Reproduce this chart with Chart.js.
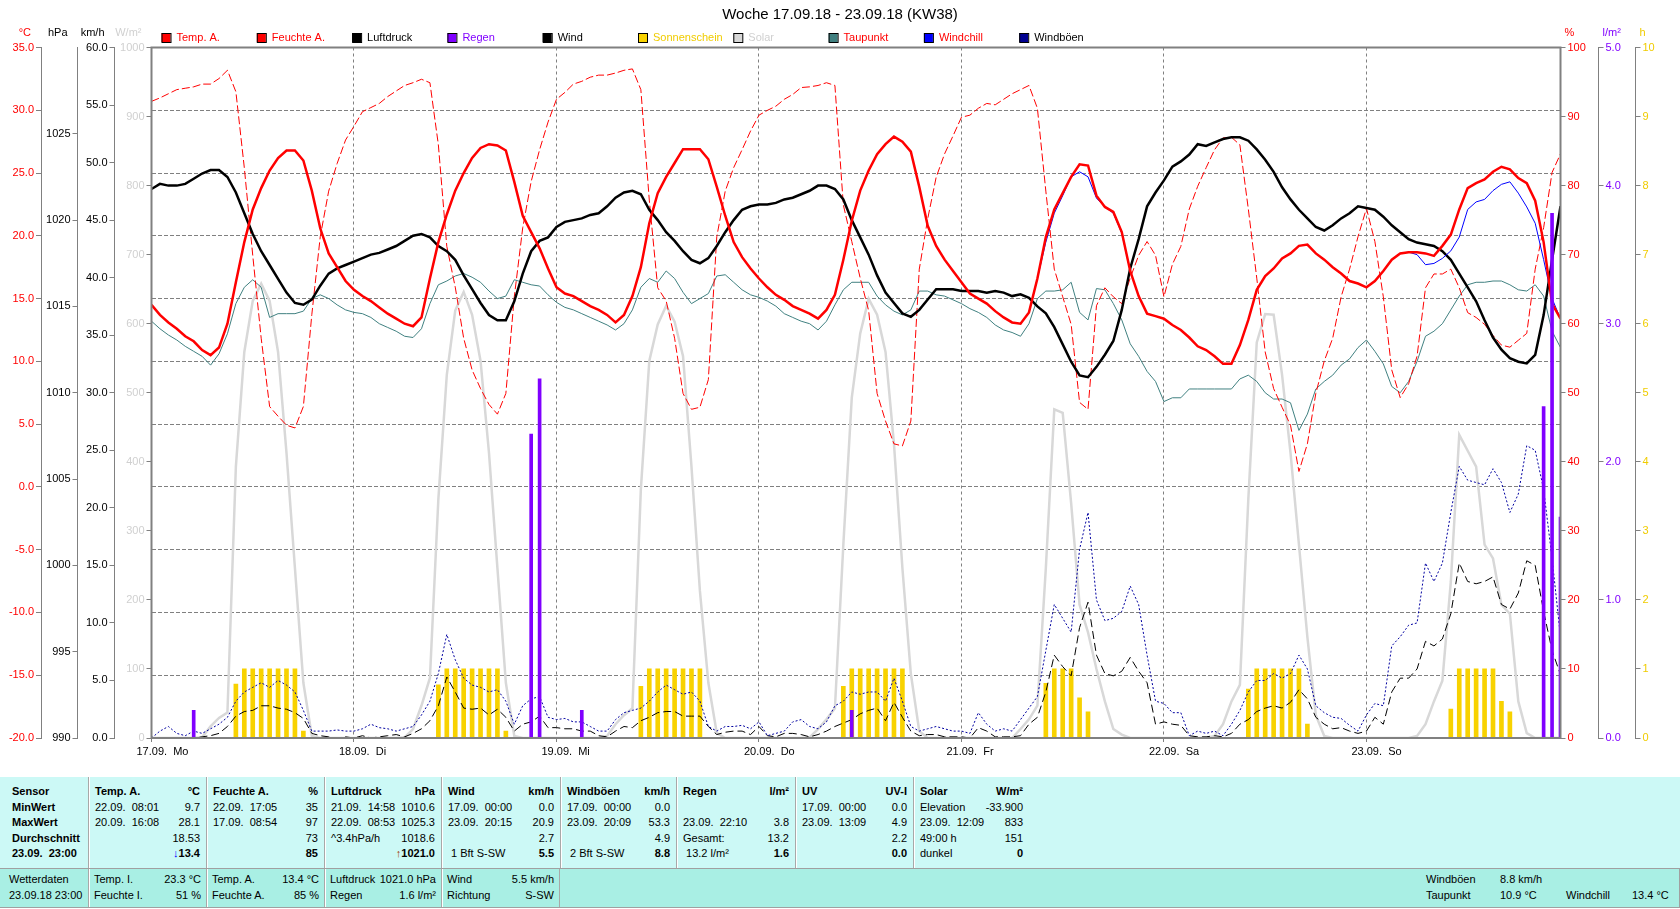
<!DOCTYPE html>
<html>
<head>
<meta charset="utf-8">
<title>Woche 17.09.18 - 23.09.18 (KW38)</title>
<script src="https://cdn.jsdelivr.net/npm/chart.js@4.4.0/dist/chart.umd.min.js"></script>
<style>
  body { margin: 0; background: #fff; font-family: "Liberation Sans", Arial, sans-serif; font-size: 11px; }
  #wrap { position: relative; width: 1680px; height: 909px; overflow: hidden; }
  #chart { position: absolute; left: 0; top: 0; }
  .band { position: absolute; left: 0; width: 1680px; box-sizing: border-box; }
  #t1 { top: 777px; height: 91px; background: #ccf9f6; }
  #t2 { top: 868px; height: 40px; background: #a9efe4; border-top: 1px solid #a0a0a0; border-bottom: 1px solid #a0a0a0; border-right: 1px solid #a0a0a0; }
  .col { position: absolute; top: 0; bottom: 0; padding: 7px 6px 0 6px; box-sizing: border-box; }
  .col + .col { border-left: 1px solid #a8a8a8; box-shadow: inset 1px 0 #ffffff; }
  #t2 .col { padding-top: 3px; padding-left: 5px; padding-right: 5px; }
  .r { display: flex; justify-content: space-between; height: 15.6px; line-height: 15.6px; white-space: pre; }
  #t2 .r { height: 15.5px; line-height: 15.5px; }
  .b { font-weight: bold; }
  .abs { position: absolute; white-space: pre; line-height: 15.5px; }
</style>
</head>
<body>
<div id="wrap">
  <canvas id="chart" width="1680" height="777"></canvas>

  <div class="band" id="t1">
    <div class="col b" style="left:0;width:88px;padding-left:12px">
      <div class="r">Sensor</div><div class="r">MinWert</div><div class="r">MaxWert</div><div class="r">Durchschnitt</div><div class="r">23.09.  23:00</div>
    </div>
    <div class="col" style="left:88px;width:118px">
      <div class="r b"><span>Temp. A.</span><span>°C</span></div>
      <div class="r"><span>22.09.  08:01</span><span>9.7</span></div>
      <div class="r"><span>20.09.  16:08</span><span>28.1</span></div>
      <div class="r"><span></span><span>18.53</span></div>
      <div class="r b"><span></span><span><span style="color:#0000ff">↓</span>13.4</span></div>
    </div>
    <div class="col" style="left:206px;width:118px">
      <div class="r b"><span>Feuchte A.</span><span>%</span></div>
      <div class="r"><span>22.09.  17:05</span><span>35</span></div>
      <div class="r"><span>17.09.  08:54</span><span>97</span></div>
      <div class="r"><span></span><span>73</span></div>
      <div class="r b"><span></span><span>85</span></div>
    </div>
    <div class="col" style="left:324px;width:117px">
      <div class="r b"><span>Luftdruck</span><span>hPa</span></div>
      <div class="r"><span>21.09.  14:58</span><span>1010.6</span></div>
      <div class="r"><span>22.09.  08:53</span><span>1025.3</span></div>
      <div class="r"><span>^3.4hPa/h</span><span>1018.6</span></div>
      <div class="r b"><span></span><span><span style="color:#a04000">↑</span>1021.0</span></div>
    </div>
    <div class="col" style="left:441px;width:119px">
      <div class="r b"><span>Wind</span><span>km/h</span></div>
      <div class="r"><span>17.09.  00:00</span><span>0.0</span></div>
      <div class="r"><span>23.09.  20:15</span><span>20.9</span></div>
      <div class="r"><span></span><span>2.7</span></div>
      <div class="r"><span> 1 Bft S-SW</span><span class="b">5.5</span></div>
    </div>
    <div class="col" style="left:560px;width:116px">
      <div class="r b"><span>Windböen</span><span>km/h</span></div>
      <div class="r"><span>17.09.  00:00</span><span>0.0</span></div>
      <div class="r"><span>23.09.  20:09</span><span>53.3</span></div>
      <div class="r"><span></span><span>4.9</span></div>
      <div class="r"><span> 2 Bft S-SW</span><span class="b">8.8</span></div>
    </div>
    <div class="col" style="left:676px;width:119px">
      <div class="r b"><span>Regen</span><span>l/m²</span></div>
      <div class="r"><span></span><span></span></div>
      <div class="r"><span>23.09.  22:10</span><span>3.8</span></div>
      <div class="r"><span>Gesamt:</span><span>13.2</span></div>
      <div class="r"><span> 13.2 l/m²</span><span class="b">1.6</span></div>
    </div>
    <div class="col" style="left:795px;width:118px">
      <div class="r b"><span>UV</span><span>UV-I</span></div>
      <div class="r"><span>17.09.  00:00</span><span>0.0</span></div>
      <div class="r"><span>23.09.  13:09</span><span>4.9</span></div>
      <div class="r"><span></span><span>2.2</span></div>
      <div class="r b"><span></span><span>0.0</span></div>
    </div>
    <div class="col" style="left:913px;width:116px">
      <div class="r b"><span>Solar</span><span>W/m²</span></div>
      <div class="r"><span>Elevation</span><span>-33.900</span></div>
      <div class="r"><span>23.09.  12:09</span><span>833</span></div>
      <div class="r"><span>49:00 h</span><span>151</span></div>
      <div class="r"><span>dunkel</span><span class="b">0</span></div>
    </div>
  </div>

  <div class="band" id="t2">
    <div class="col" style="left:0;width:88px;padding-left:9px">
      <div class="r">Wetterdaten</div><div class="r">23.09.18 23:00</div>
    </div>
    <div class="col" style="left:88px;width:118px">
      <div class="r"><span>Temp. I.</span><span>23.3 °C</span></div>
      <div class="r"><span>Feuchte I.</span><span>51 %</span></div>
    </div>
    <div class="col" style="left:206px;width:118px">
      <div class="r"><span>Temp. A.</span><span>13.4 °C</span></div>
      <div class="r"><span>Feuchte A.</span><span>85 %</span></div>
    </div>
    <div class="col" style="left:324px;width:117px">
      <div class="r"><span>Luftdruck</span><span>1021.0 hPa</span></div>
      <div class="r"><span>Regen</span><span>1.6 l/m²</span></div>
    </div>
    <div class="col" style="left:441px;width:119px;border-right:1px solid #a8a8a8">
      <div class="r"><span>Wind</span><span>5.5 km/h</span></div>
      <div class="r"><span>Richtung</span><span>S-SW</span></div>
    </div>
    <div class="abs" style="left:1426px;top:3px">Windböen</div>
    <div class="abs" style="left:1500px;top:3px">8.8 km/h</div>
    <div class="abs" style="left:1426px;top:18.5px">Taupunkt</div>
    <div class="abs" style="left:1500px;top:18.5px">10.9 °C</div>
    <div class="abs" style="left:1566px;top:18.5px">Windchill</div>
    <div class="abs" style="left:1632px;top:18.5px">13.4 °C</div>
  </div>
</div>

<script>
// one value per hour, 17.09. 00:00 .. 23.09. 23:00
const hours = Array.from({ length: 168 }, (_, i) => i);
const dayLabels = ['17.09.  Mo', '18.09.  Di', '19.09.  Mi', '20.09.  Do', '21.09.  Fr', '22.09.  Sa', '23.09.  So'];

const tempA = [
  14.5, 13.7, 13.1, 12.6, 12.0, 11.6, 10.9, 10.5, 11.1, 13.0, 16.3, 19.5, 22.1, 23.8, 25.2, 26.2, 26.8, 26.8, 26.0, 23.6, 20.6, 18.6, 17.5, 16.4,
  15.7, 15.2, 14.8, 14.3, 13.8, 13.4, 13.0, 12.8, 13.5, 16.6, 19.5, 21.7, 23.6, 25.0, 26.2, 27.0, 27.3, 27.2, 26.8, 24.3, 21.6, 20.3, 19.0, 17.4,
  15.9, 15.4, 15.2, 14.8, 14.4, 14.1, 13.7, 13.1, 13.7, 15.2, 17.5, 21.0, 23.4, 24.7, 25.8, 26.9, 26.9, 26.9, 26.1, 23.9, 21.6, 19.5, 18.3, 17.4,
  16.6, 15.9, 15.3, 14.9, 14.4, 14.1, 13.8, 13.4, 14.1, 15.3, 18.1, 21.2, 23.6, 25.2, 26.5, 27.3, 27.9, 27.5, 26.7, 23.9, 20.8, 19.2, 18.1, 17.2,
  16.3, 15.4, 15.0, 14.6, 14.0, 13.5, 13.1, 13.0, 13.9, 16.6, 19.9, 22.1, 23.4, 24.7, 25.7, 25.6, 23.2, 22.3, 21.9, 20.3, 17.2, 15.2, 13.8, 13.6,
  13.4, 12.9, 12.5, 11.9, 11.2, 10.9, 10.4, 9.8, 9.8, 11.3, 13.3, 15.7, 16.8, 17.4, 18.2, 18.6, 19.2, 19.3, 18.6, 18.1, 17.5, 17.0, 16.4, 16.2,
  15.9, 16.4, 17.2, 18.1, 18.6, 18.7, 18.7, 18.6, 18.4, 19.2, 20.1, 22.1, 23.8, 24.2, 24.5, 25.1, 25.5, 25.3, 24.6, 24.2, 22.8, 19.5, 14.6, 13.4
];

const feuchteA = [
  92.2, 92.7, 93.3, 93.9, 94.1, 94.3, 94.7, 94.7, 95.5, 96.7, 93.6, 82.6, 69.9, 57.9, 48.0, 46.6, 45.3, 44.9, 48.0, 61.3, 72.6, 79.2, 83.2, 86.6,
  88.6, 90.7, 91.3, 91.9, 92.9, 93.7, 94.5, 94.9, 95.4, 94.9, 85.9, 71.2, 65.3, 57.9, 53.3, 50.6, 48.3, 46.9, 49.9, 63.9, 73.9, 80.6, 85.2, 89.2,
  92.5, 93.5, 94.7, 95.1, 95.7, 96.0, 96.0, 96.3, 96.7, 96.9, 93.9, 77.9, 65.2, 63.3, 57.9, 49.9, 47.6, 47.9, 51.9, 72.6, 79.2, 82.6, 85.2, 87.9,
  90.2, 90.9, 91.5, 92.5, 93.2, 94.2, 94.3, 94.5, 94.9, 94.5, 77.2, 71.9, 66.6, 61.9, 49.9, 45.9, 42.6, 42.3, 45.9, 67.9, 75.2, 81.2, 84.6, 87.2,
  89.9, 90.2, 91.2, 91.9, 91.7, 92.5, 93.3, 93.9, 94.5, 91.2, 79.2, 67.9, 63.9, 59.9, 48.6, 47.6, 62.6, 65.2, 63.9, 62.9, 66.6, 69.9, 71.9, 69.9,
  63.9, 68.6, 71.2, 76.6, 79.9, 82.6, 85.2, 86.9, 87.0, 85.9, 76.6, 66.6, 55.9, 50.6, 47.9, 45.3, 38.6, 42.6, 49.9, 54.6, 57.9, 63.9, 67.9, 72.6,
  76.7, 71.9, 63.9, 53.3, 49.3, 51.3, 55.3, 65.2, 67.2, 67.2, 67.9, 65.2, 61.6, 60.9, 59.9, 58.3, 56.9, 56.6, 57.6, 58.6, 67.9, 73.9, 81.9, 84.6
];

const luftdruck = [
  1021.8, 1022.1, 1022.0, 1022.0, 1022.1, 1022.4, 1022.7, 1022.9, 1022.9, 1022.5, 1021.6, 1020.4, 1019.2, 1018.2, 1017.4, 1016.6, 1015.8, 1015.2, 1015.1, 1015.4, 1016.2, 1016.9, 1017.2, 1017.4,
  1017.6, 1017.8, 1018.0, 1018.1, 1018.3, 1018.5, 1018.8, 1019.1, 1019.2, 1019.0, 1018.5, 1018.2, 1017.7, 1016.8, 1016.0, 1015.2, 1014.5, 1014.2, 1014.2, 1015.3, 1016.9, 1018.2, 1018.8, 1019.0,
  1019.6, 1019.9, 1020.0, 1020.1, 1020.3, 1020.4, 1020.8, 1021.3, 1021.6, 1021.7, 1021.5, 1020.6, 1020.0, 1019.3, 1018.8, 1018.2, 1017.7, 1017.5, 1017.8, 1018.5, 1019.3, 1020.0, 1020.6, 1020.8,
  1020.9, 1020.9, 1021.0, 1021.2, 1021.3, 1021.5, 1021.7, 1022.0, 1022.0, 1021.8, 1021.2, 1020.0, 1019.0, 1018.0, 1016.8, 1015.8, 1015.2, 1014.6, 1014.4, 1014.8, 1015.4, 1016.0, 1016.0, 1016.0,
  1015.9, 1015.9, 1015.9, 1015.8, 1015.9, 1015.8, 1015.6, 1015.7, 1015.5, 1015.0, 1014.6, 1013.8, 1012.8, 1011.8, 1011.0, 1010.9, 1011.5, 1012.2, 1013.0, 1014.8, 1017.2, 1018.9, 1020.8, 1021.6,
  1022.3, 1023.1, 1023.4, 1023.8, 1024.4, 1024.3, 1024.5, 1024.7, 1024.8, 1024.8, 1024.6, 1024.1, 1023.5, 1022.8, 1021.9, 1021.2, 1020.6, 1020.1, 1019.6, 1019.4, 1019.7, 1020.1, 1020.4, 1020.8,
  1020.7, 1020.6, 1020.2, 1019.7, 1019.3, 1018.9, 1018.7, 1018.6, 1018.5, 1018.2, 1017.7, 1016.9, 1016.1, 1015.3, 1014.2, 1013.2, 1012.5, 1012.0, 1011.8, 1011.7, 1012.2, 1014.5, 1017.7, 1020.8
];

const wind = [
  0, 0, 0, 0, 0, 0, 0.1, 0.2, 0.4, 1.0, 1.9, 2.3, 2.4, 2.8, 2.8, 2.6, 2.5, 2.2, 1.7, 0.4, 0.2, 0.1, 0, 0.1,
  0, 0.2, 0, 0.1, 0.2, 0.3, 0.1, 0.4, 0.8, 1.5, 2.8, 5.3, 4.0, 2.6, 2.5, 2.6, 2.0, 2.5, 1.8, 0.6, 1.2, 1.4, 1.9, 0.9,
  0.9, 0.8, 0.8, 0.6, 0.6, 0.2, 0.1, 0.6, 1.0, 0.9, 1.5, 1.8, 2.2, 2.3, 2.3, 1.9, 1.9, 1.9, 1.0, 0.3, 0.5, 0.6, 0.6, 0.3,
  1.0, 0.2, 0.1, 0.4, 0.4, 0.3, 0.1, 0.3, 0.6, 1.0, 1.3, 1.6, 2.1, 2.4, 2.6, 1.5, 3.1, 1.8, 0.6, 0.2, 0.3, 0.3, 0.1, 0.1,
  0.1, 0, 0.9, 0.6, 0.1, 0.1, 0.1, 0.2, 1.2, 1.8, 4.0, 7.2, 6.2, 5.4, 9.6, 11.8, 7.2, 5.6, 5.4, 5.8, 7.0, 5.8, 4.8, 1.2,
  1.4, 1.2, 1.1, 0.2, 0.1, 0.1, 0.2, 0.1, 0.4, 1.2, 1.6, 2.3, 2.6, 2.8, 2.6, 3.1, 4.2, 3.4, 1.8, 1.2, 0.8, 0.9, 0.6, 0.4,
  0.6, 1.8, 1.2, 4.0, 5.2, 5.2, 6.0, 8.4, 8.0, 8.6, 10.8, 15.2, 13.6, 13.4, 13.6, 14.0, 11.6, 11.2, 12.6, 15.4, 15.0, 11.0, 7.6, 5.5
];

const solar = [
  0, 0, 0, 0, 0, 0, 1, 17, 29, 37, 393, 559, 633, 658, 633, 559, 413, 246, 80, 3, 0, 0, 0, 0,
  0, 0, 0, 0, 0, 0, 1, 13, 47, 87, 346, 526, 619, 646, 613, 546, 413, 246, 80, 3, 0, 0, 0, 0,
  0, 0, 0, 0, 0, 0, 3, 20, 33, 43, 360, 546, 599, 626, 603, 553, 393, 213, 80, 7, 0, 0, 0, 0,
  0, 0, 0, 0, 0, 0, 1, 13, 27, 43, 280, 493, 586, 636, 613, 559, 426, 246, 93, 10, 0, 0, 0, 0,
  0, 0, 0, 0, 0, 0, 0, 13, 27, 47, 246, 476, 471, 340, 193, 153, 100, 53, 13, 5, 0, 0, 0, 0,
  0, 0, 0, 0, 0, 0, 3, 20, 53, 77, 346, 573, 614, 613, 526, 413, 280, 146, 33, 3, 0, 0, 0, 0,
  0, 0, 0, 0, 0, 0, 3, 20, 53, 83, 226, 439, 416, 393, 280, 260, 193, 180, 53, 7, 0, 0, 0, 0
];

const taupunkt = [
  13.2, 12.6, 12.1, 11.7, 11.2, 10.8, 10.4, 9.7, 10.6, 12.2, 14.6, 15.9, 16.5, 15.9, 13.5, 13.8, 13.8, 13.8, 14.0, 15.0, 15.3, 15.0, 14.5, 14.1,
  13.9, 13.8, 13.5, 13.0, 12.7, 12.4, 12.0, 11.9, 12.6, 14.6, 16.1, 16.4, 16.8, 17.0, 16.7, 16.3, 15.6, 15.0, 15.2, 16.5, 16.3, 16.1, 16.0, 15.3,
  14.7, 14.3, 14.1, 13.8, 13.5, 13.2, 12.9, 12.5, 13.0, 14.1, 15.9, 16.6, 16.3, 17.2, 16.6, 15.5, 14.6, 15.0, 15.4, 16.8, 16.9, 16.3, 15.7, 15.3,
  15.1, 14.8, 14.4, 13.8, 13.5, 13.2, 13.0, 12.5, 13.2, 14.5, 15.7, 16.3, 16.3, 16.3, 15.2, 14.5, 14.0, 13.7, 14.1, 15.6, 15.6, 15.3, 15.2, 14.9,
  14.6, 14.2, 13.9, 13.5, 12.9, 12.5, 12.3, 12.0, 13.0, 15.0, 15.6, 15.6, 15.7, 16.3, 13.9, 13.3, 15.8, 15.7, 14.6, 13.3, 11.4, 10.4, 9.2, 8.4,
  6.8, 7.1, 7.1, 7.8, 7.8, 7.8, 7.8, 7.8, 7.8, 8.6, 8.9, 8.4, 7.5, 7.0, 7.0, 6.7, 4.5, 5.8, 7.8, 8.4, 8.9, 9.7, 10.2, 11.1,
  11.7, 10.8, 9.8, 8.0, 7.5, 8.4, 10.0, 12.0, 12.4, 13.0, 14.1, 15.2, 16.1, 16.3, 16.3, 16.4, 16.4, 16.1, 15.7, 15.6, 16.1, 15.2, 12.4, 11.1
];

const windchill = [
  14.5, 13.7, 13.1, 12.6, 12.0, 11.6, 10.9, 10.5, 11.1, 13.0, 16.3, 19.5, 22.1, 23.8, 25.2, 26.2, 26.8, 26.8, 26.0, 23.6, 20.6, 18.6, 17.5, 16.4,
  15.7, 15.2, 14.8, 14.3, 13.8, 13.4, 13.0, 12.8, 13.5, 16.6, 19.5, 21.7, 23.6, 25.0, 26.2, 27.0, 27.3, 27.2, 26.8, 24.3, 21.6, 20.3, 19.0, 17.4,
  15.9, 15.4, 15.2, 14.8, 14.4, 14.1, 13.7, 13.1, 13.7, 15.2, 17.5, 21.0, 23.4, 24.7, 25.8, 26.9, 26.9, 26.9, 26.1, 23.9, 21.6, 19.5, 18.3, 17.4,
  16.6, 15.9, 15.3, 14.9, 14.4, 14.1, 13.8, 13.4, 14.1, 15.3, 18.1, 21.2, 23.6, 25.2, 26.5, 27.3, 27.9, 27.5, 26.7, 23.9, 20.8, 19.2, 18.1, 17.2,
  16.3, 15.4, 15.0, 14.6, 14.0, 13.5, 13.1, 13.0, 13.9, 16.6, 19.5, 21.8, 23.2, 24.7, 25.1, 24.7, 23.0, 22.3, 21.8, 20.2, 17.2, 15.2, 13.8, 13.6,
  13.4, 12.9, 12.5, 11.9, 11.2, 10.9, 10.4, 9.8, 9.8, 11.3, 13.3, 15.7, 16.8, 17.4, 18.2, 18.6, 19.2, 19.3, 18.6, 18.1, 17.5, 17.0, 16.4, 16.2,
  15.9, 16.4, 17.2, 18.1, 18.6, 18.7, 18.5, 17.7, 17.8, 18.2, 18.8, 19.9, 22.1, 22.7, 22.9, 23.6, 24.1, 24.3, 23.4, 22.3, 21.0, 18.1, 15.0, 13.4
];

const windboeen = [
  0, 0.6, 1.0, 0.4, 0.2, 0.6, 0.4, 0.8, 1.2, 1.8, 3.2, 4.0, 4.4, 4.8, 4.4, 5.0, 4.6, 4.0, 2.4, 0.6, 0.6, 0.6, 0.7, 0.6,
  0.6, 0.8, 1.2, 0.9, 0.8, 0.6, 0.8, 1.0, 2.0, 3.2, 5.6, 9.0, 6.8, 5.2, 4.6, 4.4, 4.0, 4.2, 3.2, 1.2, 2.8, 3.4, 3.6, 1.8,
  1.6, 1.7, 1.4, 1.4, 1.0, 0.6, 0.6, 1.6, 2.2, 2.4, 2.6, 3.2, 4.0, 4.6, 4.2, 3.8, 4.0, 3.2, 1.0, 0.6, 1.0, 1.0, 1.1, 0.8,
  1.4, 0.2, 0.4, 0.6, 1.4, 1.6, 1.0, 0.8, 1.4, 2.8, 3.2, 4.0, 3.8, 4.0, 4.0, 3.2, 5.2, 3.2, 1.0, 0.6, 0.8, 1.0, 0.8, 0.6,
  0.6, 0.4, 2.2, 1.2, 0.6, 0.8, 0.6, 1.6, 2.6, 3.6, 7.6, 11.6, 10.4, 9.2, 16.4, 19.6, 12.0, 10.2, 10.4, 11.0, 13.2, 11.6, 7.2, 3.2,
  3.0, 2.2, 2.2, 0.2, 0.6, 0.4, 0.6, 0.2, 1.2, 2.4, 4.0, 5.0, 5.0, 5.6, 5.2, 5.6, 7.2, 6.0, 2.8, 2.2, 1.8, 1.7, 1.1, 0.6,
  2.0, 3.0, 2.8, 8.0, 8.8, 9.8, 10.0, 15.2, 13.6, 15.2, 19.6, 23.6, 22.4, 22.2, 22.0, 23.4, 22.2, 19.6, 21.2, 25.4, 25.0, 21.6, 15.6, 8.8
];

// rain per hour (l/m²) and sunshine per hour (h), only the hours that have any
const regenHours = [5, 45, 46, 51, 83, 165, 166, 167];
const regenValues = [0.2, 2.2, 2.6, 0.2, 0.2, 2.4, 3.8, 1.6];
const sonneHours = [10, 11, 12, 13, 14, 15, 16, 17, 18, 34, 35, 36, 37, 38, 39, 40, 41, 42, 58, 59, 60, 61, 62, 63, 64, 65,
  82, 83, 84, 85, 86, 87, 88, 89, 106, 107, 108, 109, 110, 111, 130, 131, 132, 133, 134, 135, 136, 137, 154, 155, 156, 157, 158, 159, 160, 161];
const sonneValues = [0.78, 1, 1, 1, 1, 1, 1, 1, 0.1, 0.77, 1, 1, 1, 1, 1, 1, 1, 0.1, 0.75, 1, 1, 1, 1, 1, 1, 1,
  0.75, 1, 1, 1, 1, 1, 1, 1, 0.79, 1, 1, 1, 0.58, 0.38, 0.71, 1, 1, 1, 1, 1, 1, 0.2, 0.42, 1, 1, 1, 1, 1, 0.53, 0.38];

const GRAY = '#808080';
Chart.defaults.font.family = '"Liberation Sans", Arial, sans-serif';
Chart.defaults.font.size = 11;
Chart.defaults.color = '#000';

// fixed axis widths so the stacked axes line up like the original
function fixWidth(w) {
  return function (scale) {
    scale.width = w;
    scale.paddingTop = 0;
    scale.paddingBottom = 0;
  };
}

function sideAxis(position, weight, width, min, max, step, color, fmt) {
  return {
    type: 'linear',
    position: position,
    weight: weight,
    min: min,
    max: max,
    afterFit: fixWidth(width),
    grid: { drawOnChartArea: false, tickLength: 5, tickColor: GRAY },
    border: { display: true, color: GRAY, width: 1 },
    ticks: {
      stepSize: step,
      maxTicksLimit: 30,
      autoSkip: false,
      padding: 2,
      color: color,
      callback: fmt
    }
  };
}

const one = v => v.toFixed(1);
const whole = v => String(Math.round(v));

const axisTitles = [
  { id: 'yTemp', text: '°C', color: '#ff0000' },
  { id: 'yPress', text: 'hPa', color: '#000000' },
  { id: 'yWind', text: 'km/h', color: '#000000' },
  { id: 'ySolar', text: 'W/m²', color: '#d0d0d0' },
  { id: 'yHum', text: '%', color: '#ff0000' },
  { id: 'yRain', text: 'l/m²', color: '#8000ff' },
  { id: 'ySun', text: 'h', color: '#f0cc00' }
];

const decor = {
  id: 'decor',
  afterDraw(chart) {
    const ctx = chart.ctx;
    const a = chart.chartArea;
    ctx.save();
    ctx.strokeStyle = GRAY;
    ctx.lineWidth = 2;
    ctx.strokeRect(a.left, a.top, a.right - a.left, a.bottom - a.top);

    ctx.fillStyle = '#000';
    ctx.font = '15px "Liberation Sans", Arial, sans-serif';
    ctx.textAlign = 'center';
    ctx.textBaseline = 'middle';
    ctx.fillText('Woche 17.09.18 - 23.09.18 (KW38)', chart.width / 2, 15);

    ctx.font = '11px "Liberation Sans", Arial, sans-serif';
    axisTitles.forEach(t => {
      const s = chart.scales[t.id];
      ctx.fillStyle = t.color;
      if (s.position === 'left') {
        ctx.textAlign = 'right';
        ctx.fillText(t.text, s.right - 10, 33);
      } else {
        ctx.textAlign = 'left';
        ctx.fillText(t.text, s.left + 4, 33);
      }
    });

    ctx.textAlign = 'left';
    chart.data.datasets.forEach((ds, i) => {
      const x = 161.5 + i * 95.3;
      ctx.fillStyle = ds.legendBox;
      ctx.fillRect(x, 33, 9, 9);
      ctx.strokeStyle = '#000';
      ctx.lineWidth = 1;
      ctx.strokeRect(x + 0.5, 33.5, 9, 9);
      ctx.fillStyle = ds.legendText;
      ctx.fillText(ds.label, x + 15, 38);
    });
    ctx.restore();
  }
};

const lineBase = { type: 'line', pointRadius: 0, tension: 0, fill: false };

new Chart(document.getElementById('chart'), {
  type: 'line',
  data: {
    labels: hours,
    datasets: [
      { ...lineBase, label: 'Temp. A.', data: tempA, yAxisID: 'yTemp', borderColor: '#ff0000', borderWidth: 2.5, order: 1,
        legendBox: '#ff0000', legendText: '#ff0000' },
      { ...lineBase, label: 'Feuchte A.', data: feuchteA, yAxisID: 'yHum', borderColor: '#ff0000', borderWidth: 1, borderDash: [8, 3], order: 4,
        legendBox: '#ff0000', legendText: '#ff0000' },
      { ...lineBase, label: 'Luftdruck', data: luftdruck, yAxisID: 'yPress', borderColor: '#000000', borderWidth: 2.5, order: 3,
        legendBox: '#000000', legendText: '#000000' },
      { type: 'bar', label: 'Regen', data: regenHours.map((h, i) => ({ x: h, y: regenValues[i] })), yAxisID: 'yRain',
        backgroundColor: '#8000ff', barThickness: 3, grouped: false, order: 0,
        legendBox: '#8000ff', legendText: '#8000ff' },
      { ...lineBase, label: 'Wind', data: wind, yAxisID: 'yWind', borderColor: '#000000', borderWidth: 1, borderDash: [8, 4], order: 7,
        legendBox: '#000000', legendText: '#000000' },
      { type: 'bar', label: 'Sonnenschein', data: sonneHours.map((h, i) => ({ x: h, y: sonneValues[i] })), yAxisID: 'ySun',
        backgroundColor: '#f8d200', barThickness: 4, grouped: false, order: 8,
        legendBox: '#f8d200', legendText: '#f0cc00' },
      { ...lineBase, label: 'Solar', data: solar, yAxisID: 'ySolar', borderColor: '#d8d8d8', borderWidth: 2.5, order: 9,
        legendBox: '#d8d8d8', legendText: '#d0d0d0' },
      { ...lineBase, label: 'Taupunkt', data: taupunkt, yAxisID: 'yTemp', borderColor: '#408080', borderWidth: 1, order: 5,
        legendBox: '#408080', legendText: '#ff0000' },
      { ...lineBase, label: 'Windchill', data: windchill, yAxisID: 'yTemp', borderColor: '#0000ff', borderWidth: 1, order: 2,
        legendBox: '#0000ff', legendText: '#ff0000' },
      { ...lineBase, label: 'Windböen', data: windboeen, yAxisID: 'yWind', borderColor: '#0000a0', borderWidth: 1, borderDash: [2, 2], order: 6,
        legendBox: '#000090', legendText: '#000000' }
    ]
  },
  options: {
    responsive: false,
    animation: false,
    devicePixelRatio: 1,
    layout: { padding: { top: 47.5, left: 0, right: 0, bottom: 0 } },
    plugins: { legend: { display: false }, tooltip: { enabled: false }, title: { display: false } },
    scales: {
      x: {
        type: 'linear',
        min: 0,
        max: 167,
        offset: false,
        afterFit(scale) { scale.height = 39; scale.paddingLeft = 0; scale.paddingRight = 0; },
        afterBuildTicks(scale) { scale.ticks = scale.ticks.filter(t => t.value % 24 === 0); },
        grid: { offset: false, drawOnChartArea: true, color: GRAY, tickLength: 4, tickColor: GRAY },
        border: { display: true, color: GRAY, dash: [3, 3] },
        ticks: {
          stepSize: 24,
          autoSkip: false,
          maxRotation: 0,
          align: 'start',
          labelOffset: -15,
          padding: 3,
          color: '#000',
          callback: v => dayLabels[v / 24]
        }
      },
      yTemp: {
        ...sideAxis('left', 3, 41, -20, 35, 5, '#ff0000', one),
        grid: { drawOnChartArea: true, color: GRAY, tickLength: 5, tickColor: GRAY },
        border: { display: true, color: GRAY, width: 1, dash: [4, 2] }
      },
      yPress: {
        ...sideAxis('left', 2, 36.5, 990, 1030, 5, '#000000', whole),
        afterBuildTicks(scale) { scale.ticks = scale.ticks.filter(t => t.value < 1030); }
      },
      yWind: sideAxis('left', 1, 37, 0, 60, 5, '#000000', one),
      ySolar: sideAxis('left', 0, 37, 0, 1000, 100, '#d0d0d0', whole),
      yHum: sideAxis('right', 0, 38, 0, 100, 10, '#ff0000', whole),
      yRain: sideAxis('right', 1, 37, 0, 5, 1, '#8000ff', one),
      ySun: sideAxis('right', 2, 44.5, 0, 10, 1, '#f0cc00', whole)
    }
  },
  plugins: [decor]
});
</script>
</body>
</html>
